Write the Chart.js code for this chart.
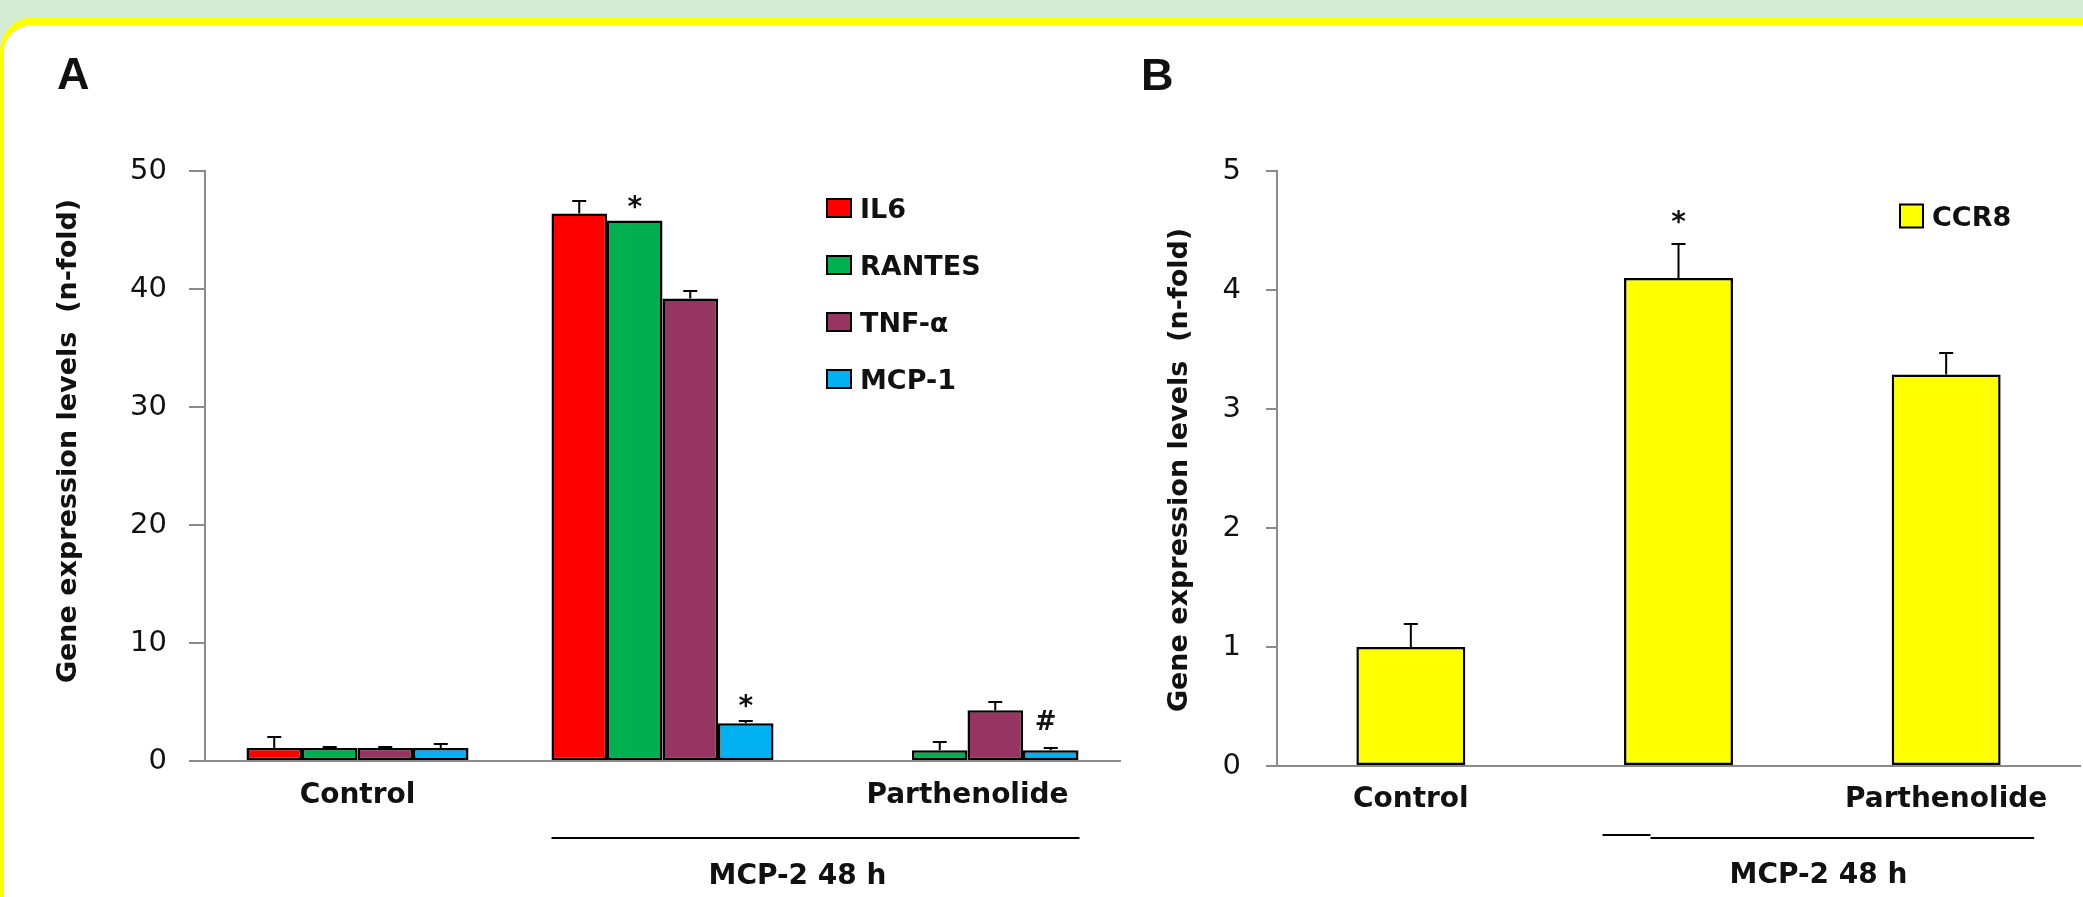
<!DOCTYPE html>
<html>
<head>
<meta charset="utf-8">
<script src="https://cdn.jsdelivr.net/npm/chart.js@4.4.1/dist/chart.umd.min.js"></script>
<style>
  html, body { margin: 0; padding: 0; }
  body { width: 2083px; height: 897px; overflow: hidden; background: #d3ecd3; position: relative; }
  .card { position: absolute; left: 0; top: 17px; width: 2150px; height: 950px; background: #fff;
          border-top: 8px solid #ffff00; border-left: 4px solid #ffff00; border-top-left-radius: 34px; }
  .panel { position: absolute; top: 0; height: 897px; }
  #panelA { left: 0; width: 1130px; }
  #panelB { left: 1130px; width: 953px; }
</style>
</head>
<body>
<div class="card"></div>
<div class="panel" id="panelA"><canvas id="chartA" width="1130" height="897"></canvas></div>
<div class="panel" id="panelB"><canvas id="chartB" width="953" height="897"></canvas></div>
<script>
// panel A data (n-fold)
var groupsA = ['Control', '', 'Parthenolide'];
var il6 = [1.1, 46.4, null];
var il6Err = [0.95, 1.1, null];
var rantes = [1.1, 45.8, 0.92];
var rantesErr = [0.05, null, 0.7];
var tnf = [1.1, 39.2, 4.3];
var tnfErr = [0.05, 0.65, 0.7];
var mcp1 = [1.1, 3.2, 0.92];
var mcp1Err = [0.3, 0.2, 0.2];
var yTicksA = [0, 10, 20, 30, 40, 50];

// panel B data
var groupsB = ['Control', '', 'Parthenolide'];
var ccr8 = [1.0, 4.1, 3.29];
var ccr8Err = [0.19, 0.29, 0.18];
var yTicksB = [0, 1, 2, 3, 4, 5];

var FONT = 'DejaVu Sans';
var INK = '#111';
var AXIS = '#8a8a8a';

// error bars (upper half only, like the figure)
var errorBars = {
    id: 'errorBars',
    afterDatasetsDraw: function (chart) {
        var ctx = chart.ctx, y = chart.scales.y;
        ctx.save();
        ctx.strokeStyle = '#000';
        ctx.lineWidth = 2;
        chart.data.datasets.forEach(function (ds, d) {
            var meta = chart.getDatasetMeta(d);
            (ds.errors || []).forEach(function (e, i) {
                var v = ds.data[i];
                if (e == null || v == null) return;
                var bar = meta.data[i];
                var top = Math.round(y.getPixelForValue(v + e));
                ctx.beginPath();
                ctx.moveTo(bar.x, bar.y);
                ctx.lineTo(bar.x, top);
                ctx.moveTo(bar.x - 7, top);
                ctx.lineTo(bar.x + 7, top);
                ctx.stroke();
            });
        });
        ctx.restore();
    }
};

// * and # significance marks, centred on a bar at a given value
var sigMarks = {
    id: 'sigMarks',
    afterDatasetsDraw: function (chart, args, opts) {
        var ctx = chart.ctx, y = chart.scales.y;
        ctx.save();
        ctx.fillStyle = INK;
        ctx.textAlign = 'center';
        ctx.textBaseline = 'alphabetic';
        (opts.items || []).forEach(function (m) {
            var bar = chart.getDatasetMeta(m.ds).data[m.idx];
            ctx.font = 'bold ' + m.size + 'px "' + FONT + '"';
            var tm = ctx.measureText(m.text);
            var cy = y.getPixelForValue(m.at);
            ctx.fillText(m.text, bar.x + (m.dx || 0), cy + (tm.actualBoundingBoxAscent - tm.actualBoundingBoxDescent) / 2);
        });
        ctx.restore();
    }
};

// panel letter, rotated axis title, legend and the MCP-2 bracket
var panelDecor = {
    id: 'panelDecor',
    afterDraw: function (chart, args, o) {
        var ctx = chart.ctx, x = chart.scales.x;
        ctx.save();
        ctx.fillStyle = INK;

        ctx.font = 'bold 45px "Liberation Sans"';
        ctx.textBaseline = 'alphabetic';
        ctx.textAlign = 'left';
        ctx.fillText(o.letter, o.letterX, o.letterY);

        ctx.save();
        ctx.translate(o.titleX, o.titleY);
        ctx.rotate(-Math.PI / 2);
        ctx.font = 'bold 27px "' + FONT + '"';
        ctx.textAlign = 'center';
        ctx.textBaseline = 'middle';
        ctx.fillText('Gene expression levels  (n-fold)', 0, 0);
        ctx.restore();

        var lg = o.legend;
        ctx.font = 'bold 27px "' + FONT + '"';
        ctx.lineWidth = 2;
        ctx.strokeStyle = '#000';
        chart.data.datasets.forEach(function (ds, i) {
            var cy = lg.y + i * lg.step;
            ctx.fillStyle = ds.backgroundColor;
            ctx.fillRect(lg.x, cy - lg.boxH / 2, lg.boxW, lg.boxH);
            ctx.strokeRect(lg.x, cy - lg.boxH / 2, lg.boxW, lg.boxH);
            ctx.fillStyle = INK;
            ctx.fillText(ds.label, lg.textX, cy + 10);
        });

        var br = o.bracket;
        ctx.beginPath();
        br.segs.forEach(function (s) {
            ctx.moveTo(x.getPixelForValue(s[0][0]) + s[0][1], s[2]);
            ctx.lineTo(x.getPixelForValue(s[1][0]) + s[1][1], s[2]);
        });
        ctx.stroke();
        ctx.font = 'bold 28px "' + FONT + '"';
        ctx.textAlign = 'center';
        ctx.fillText(br.label, x.getPixelForValue(br.at[0]) + br.at[1], br.labelY);
        ctx.restore();
    }
};

function axes(ticks, yWidth, tickLen, tickPad, xPad) {
    return {
        x: {
            grid: { display: false, drawTicks: false },
            border: { color: AXIS, width: 2 },
            ticks: { color: INK, padding: xPad, maxRotation: 0, autoSkip: false,
                     font: { family: FONT, size: 28, weight: 'bold' } },
            afterFit: function (s) { s.height = 60; }
        },
        y: {
            min: ticks[0],
            max: ticks[ticks.length - 1],
            afterBuildTicks: function (s) { s.ticks = ticks.map(function (v) { return { value: v }; }); },
            grid: { drawOnChartArea: false, drawTicks: true, tickLength: tickLen, color: AXIS, lineWidth: 2 },
            border: { color: AXIS, width: 2 },
            ticks: { color: INK, padding: tickPad, font: { family: FONT, size: 29 } },
            afterFit: function (s) { s.width = yWidth; }
        }
    };
}

new Chart(document.getElementById('chartA'), {
    type: 'bar',
    data: {
        labels: groupsA,
        datasets: [
            { label: 'IL6', data: il6, errors: il6Err, backgroundColor: '#ff0000' },
            { label: 'RANTES', data: rantes, errors: rantesErr, backgroundColor: '#00b050' },
            { label: 'TNF-α', data: tnf, errors: tnfErr, backgroundColor: '#963462' },
            { label: 'MCP-1', data: mcp1, errors: mcp1Err, backgroundColor: '#00b0f0' }
        ]
    },
    options: {
        responsive: false,
        animation: false,
        layout: { padding: { top: 171, left: 0, right: 10, bottom: 76 } },
        datasets: { bar: { borderColor: '#000', borderWidth: 2.5, borderSkipped: false,
                           categoryPercentage: 0.728, barPercentage: 1 } },
        scales: axes(yTicksA, 205, 16, 22, 18),
        plugins: {
            legend: { display: false },
            tooltip: { enabled: false },
            sigMarks: { items: [
                { ds: 1, idx: 1, text: '*', at: 47.4, size: 28 },
                { ds: 3, idx: 1, text: '*', at: 5.1, size: 28 },
                { ds: 3, idx: 2, text: '#', at: 3.5, size: 26, dx: -5 }
            ] },
            panelDecor: {
                letter: 'A', letterX: 57, letterY: 89,
                titleX: 69, titleY: 441,
                legend: { x: 827, y: 208, step: 57, boxW: 24, boxH: 18, textX: 860 },
                bracket: { segs: [[[1, -111], [2, 112], 838]], label: 'MCP-2 48 h', at: [1, 135], labelY: 884 }
            }
        }
    },
    plugins: [errorBars, sigMarks, panelDecor]
});

new Chart(document.getElementById('chartB'), {
    type: 'bar',
    data: {
        labels: groupsB,
        datasets: [
            { label: 'CCR8', data: ccr8, errors: ccr8Err, backgroundColor: '#ffff00' }
        ]
    },
    options: {
        responsive: false,
        animation: false,
        layout: { padding: { top: 171, left: 0, right: 3, bottom: 71 } },
        datasets: { bar: { borderColor: '#000', borderWidth: 2.5, borderSkipped: false,
                           categoryPercentage: 0.407, barPercentage: 1 } },
        scales: axes(yTicksB, 147, 11, 25, 17),
        plugins: {
            legend: { display: false },
            tooltip: { enabled: false },
            sigMarks: { items: [
                { ds: 0, idx: 1, text: '*', at: 4.61, size: 28 }
            ] },
            panelDecor: {
                letter: 'B', letterX: 11, letterY: 90,
                titleX: 50, titleY: 470,
                legend: { x: 770, y: 216, step: 57, boxW: 23, boxH: 23, textX: 802 },
                bracket: { segs: [[[1, -76], [1, -28], 835], [[1, -28], [2, 88], 838]], label: 'MCP-2 48 h', at: [1, 140], labelY: 883 }
            }
        }
    },
    plugins: [errorBars, sigMarks, panelDecor]
});
</script>
</body>
</html>
